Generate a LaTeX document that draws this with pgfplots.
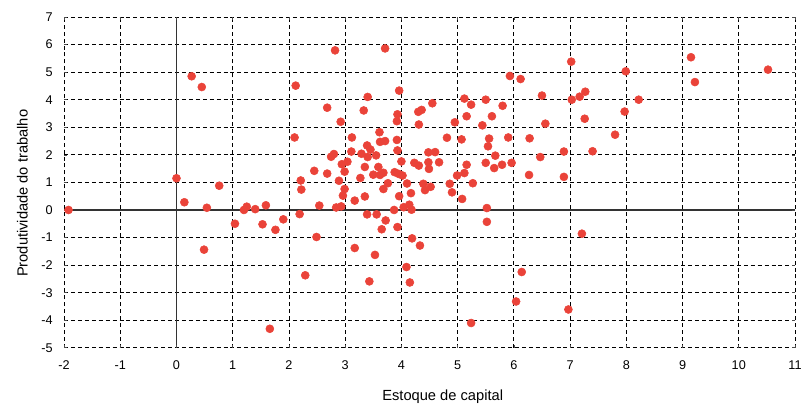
\documentclass[border=0pt]{standalone}
\usepackage{fontspec}
\setmainfont{Liberation Sans}
\usepackage{pgfplots}
\pgfplotsset{compat=1.18}
\definecolor{dotred}{RGB}{234,67,57}

\pgfplotstableread{
x y
-1.92 0.00
0.00 1.15
0.14 0.28
0.27 4.85
0.45 4.46
0.49 -1.44
0.54 0.08
0.76 0.88
1.04 -0.50
1.20 0.00
1.25 0.12
1.40 0.03
1.53 -0.52
1.59 0.17
1.66 -4.31
1.76 -0.72
1.90 -0.34
2.10 2.63
2.12 4.51
2.19 -0.15
2.21 1.07
2.22 0.74
2.29 -2.37
2.45 1.42
2.49 -0.98
2.54 0.16
2.68 3.71
2.68 1.32
2.75 1.93
2.80 2.03
2.82 5.79
2.84 0.09
2.89 1.06
2.92 3.20
2.93 0.13
2.94 1.66
2.96 0.52
2.99 0.76
2.99 1.39
3.04 1.75
3.11 2.12
3.12 2.63
3.17 0.34
3.17 -1.38
3.27 1.16
3.29 2.04
3.33 3.61
3.35 1.56
3.35 0.49
3.39 2.34
3.39 -0.16
3.40 1.92
3.40 4.10
3.43 -2.59
3.45 2.19
3.50 1.28
3.53 -1.63
3.55 1.98
3.56 -0.16
3.59 1.56
3.61 2.82
3.62 2.47
3.62 1.27
3.65 -0.70
3.68 1.35
3.68 0.76
3.71 2.50
3.71 5.86
3.72 -0.38
3.76 0.97
3.87 0.00
3.88 1.37
3.92 2.54
3.92 3.22
3.93 3.47
3.93 2.16
3.93 -0.62
3.95 1.31
3.96 0.50
3.96 4.33
4.00 1.76
4.02 1.25
4.04 0.10
4.09 -2.07
4.10 0.96
4.14 0.19
4.15 -2.63
4.17 0.61
4.18 0.01
4.19 -1.03
4.23 1.71
4.30 3.56
4.31 1.61
4.31 3.10
4.33 -1.29
4.36 3.63
4.39 0.95
4.42 0.72
4.48 2.09
4.48 1.73
4.49 1.49
4.52 0.84
4.55 3.87
4.60 2.10
4.67 1.73
4.81 2.62
4.86 0.95
4.90 0.64
4.95 3.18
4.99 1.25
5.07 2.56
5.08 0.40
5.12 4.04
5.12 1.34
5.16 3.40
5.16 1.64
5.24 3.82
5.24 -4.10
5.27 0.97
5.44 3.07
5.50 4.00
5.50 1.71
5.52 0.07
5.52 -0.43
5.54 2.31
5.56 2.59
5.61 3.40
5.65 1.52
5.67 1.97
5.79 1.64
5.80 3.78
5.90 2.63
5.93 4.86
5.96 1.71
6.04 -3.32
6.12 4.75
6.14 -2.25
6.27 1.27
6.28 2.60
6.47 1.92
6.50 4.15
6.56 3.13
6.89 2.12
6.89 1.20
6.97 -3.61
7.02 5.38
7.03 4.00
7.17 4.11
7.21 -0.86
7.26 3.31
7.27 4.29
7.40 2.13
7.80 2.73
7.97 3.57
7.99 5.03
8.22 4.00
9.15 5.54
9.22 4.64
10.52 5.09
}\pontos

\begin{document}
\begin{tikzpicture}
% fixed page frame around the 548pt x 248pt plot box
\path[use as bounding box] (-48pt,-43.5pt) rectangle (554pt,260.75pt);
\begin{axis}[
    at={(0,0)}, anchor=south west,
    scale only axis,
    width=548pt, height=248pt,
    xmin=-2, xmax=11, ymin=-5, ymax=7,
    xtick={-2,...,11}, ytick={-5,...,7},
    axis line style={draw=none},
    major tick length=2.2pt,
    tick align=inside,
    major tick style={black!70, line width=0.5pt},
    grid=major,
    major grid style={black, dash pattern=on 3pt off 2.2pt, line width=0.6pt},
    extra x ticks={0}, extra y ticks={0},
    extra x tick labels={}, extra y tick labels={},
    extra tick style={grid=major, major grid style={solid, black!80, line width=0.9pt}},
    /pgf/number format/assume math mode=true,
    tick label style={font=\fontsize{9.5}{11}\selectfont},
    xticklabel style={anchor=north, yshift=-6pt},
    yticklabel style={anchor=east, xshift=-5pt},
    label style={font=\fontsize{11}{13}\selectfont},
    xlabel={Estoque de capital},
    ylabel={Produtividade do trabalho},
    xlabel style={at={(axis description cs:0.518,-0.148)}, anchor=center},
    ylabel style={at={(axis description cs:-0.057,0.467)}, anchor=center},
]
\addplot[only marks, mark=*, mark size=3pt, color=dotred, mark options={draw=dotred, fill=dotred}] table[x=x, y=y] {\pontos};
\end{axis}
\end{tikzpicture}
\end{document}
